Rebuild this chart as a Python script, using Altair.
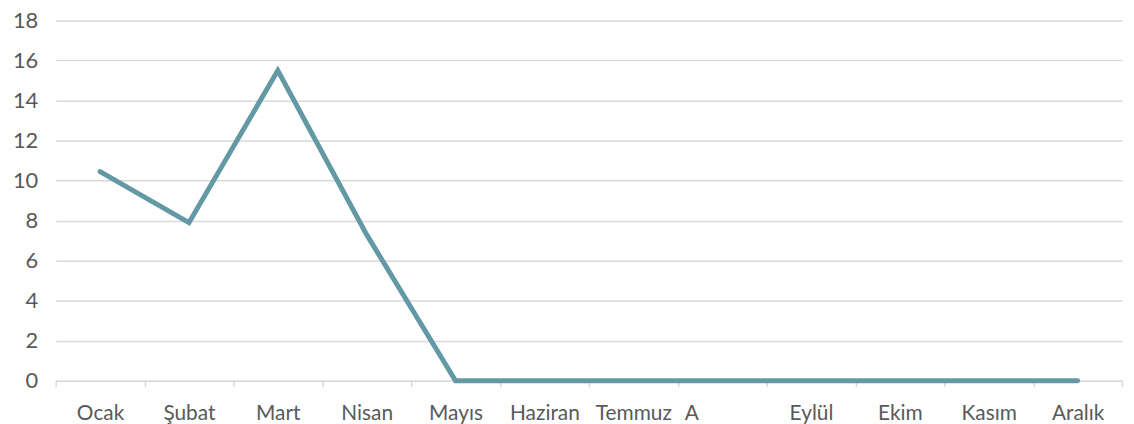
import altair as alt
import pandas as pd

months = ["Ocak", "Şubat", "Mart", "Nisan", "Mayıs", "Haziran", "Temmuz", "A",
          "Eylül", "Ekim", "Kasım", "Aralık"]
values = [10.45, 7.9, 15.5, 7.3, 0, 0, 0, 0, 0, 0, 0, 0]
y_ticks = list(range(0, 19, 2))

df = pd.DataFrame({"month": months, "value": values})

W, H = 1074, 363
FONT = "Lato"
GREY = "#595959"

xscale = alt.Scale(type="band", domain=months, paddingInner=0, paddingOuter=0)

line = alt.Chart(df).mark_line(color="#6399A4", strokeWidth=5, strokeCap="round",
                               strokeJoin="miter").encode(
    x=alt.X("month:N", scale=xscale, bandPosition=0.5, sort=months,
            axis=alt.Axis(title=None, ticks=True, tickBand="extent", tickSize=6,
                          tickColor="#d9d9d9", tickWidth=1.5,
                          domain=True, domainColor="#d9d9d9",
                          domainWidth=1.5, labelAngle=0, labelFont=FONT, labelFontSize=21,
                          labelColor=GREY, labelPadding=16, grid=False,
                          labelOffset={"condition": {"test": "datum.value == 'A'", "value": -31},
                                       "value": 0})),
    y=alt.Y("value:Q", scale=alt.Scale(domain=[0, 18], nice=False),
            axis=alt.Axis(title=None, values=y_ticks, domain=False, ticks=False,
                          grid=True, gridColor="#d9d9d9", gridWidth=1.5,
                          labelFont=FONT, labelFontSize=22, labelColor=GREY,
                          labelPadding=18)),
)

chart = line.properties(
    width=W, height=H,
    autosize=alt.AutoSizeParams(type="none"),
    padding={"left": 48, "top": 11, "right": 4, "bottom": 42},
).configure_view(stroke=None)

chart.save("out.html", embed_options={"renderer": "svg", "actions": False})
